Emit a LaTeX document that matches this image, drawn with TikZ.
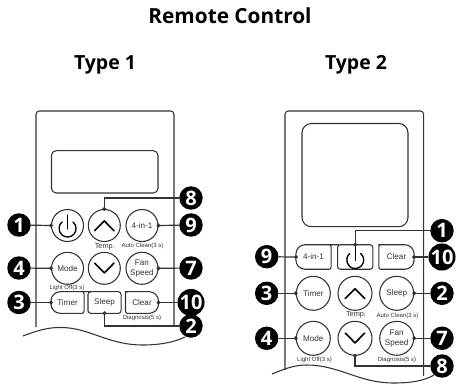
\documentclass[tikz,border=0pt]{standalone}
\usepackage{fontspec}
\setmainfont{Open Sans}
\newfontfamily\btnfont{Liberation Sans}
\usetikzlibrary{arrows.meta,calc}
\definecolor{ln}{HTML}{333333}
\tikzset{
  badge/.style={circle,fill=black,text=white,minimum size=17.6pt,inner sep=0pt,font=\fontsize{15}{15}\selectfont\bfseries},
  rbtn/.style={circle,draw=ln,line width=.8pt,fill=white,minimum size=24pt,inner sep=0pt,align=center,font=\btnfont\fontsize{6.1}{7.2}\selectfont,text=ln},
  sbtn/.style={rectangle,draw=none,minimum width=24.4pt,minimum height=15.8pt,inner sep=0pt,font=\btnfont\fontsize{6.1}{7.2}\selectfont,text=ln},
  wbtn/.style={sbtn,minimum width=26pt,minimum height=18pt},
  frame/.style={draw=ln,line width=.8pt},
  lead/.style={draw=ln,line width=.9pt,shorten >=-1.4pt,-{Circle[length=2.8pt]}},
  chev/.style={draw=black,line width=1pt,line cap=round,line join=round},
  small/.style={font=\btnfont\fontsize{4.5}{5}\selectfont,text=ln,inner sep=0pt},
  temp/.style={font=\btnfont\fontsize{5.5}{6}\selectfont,text=ln,inner sep=0pt},
  ttl/.style={font=\fontsize{15.6}{17}\selectfont\bfseries,inner sep=0pt,anchor=base},
  sub/.style={font=\fontsize{14.6}{17}\selectfont\bfseries,inner sep=0pt,anchor=base}
}
\newcommand{\lbtn}[1]{\draw[frame] ($(#1.north east)+(-1.5,0)$) [rounded corners=1.5] -- (#1.north east) -- (#1.south east) [rounded corners=7] -- (#1.south west) -- (#1.north west) -- cycle;}
\newcommand{\rrbtn}[1]{\draw[frame] ($(#1.north west)+(1.5,0)$) [rounded corners=7] -- (#1.north east) -- (#1.south east) [rounded corners=1.5] -- (#1.south west) -- (#1.north west) -- cycle;}
\newcommand{\qbtn}[1]{\draw[frame,rounded corners=2] (#1.north west) rectangle (#1.south east);}
\newcommand{\pwr}[1]{\draw[chev] ($(#1)+(0,-10.5)$) -- ($(#1)+(0,3.5)$);
  \draw[chev] ($(#1)+(5.5,-3.5)$) arc[start angle=-50,end angle=230,radius=8.5];}
\newcommand{\chup}[1]{\draw[chev,line width=1.2pt] ($(#1)+(-9.7,5.2)$) -- ($(#1)+(0,-4.6)$) -- ($(#1)+(9.7,5.2)$);}
\newcommand{\chdn}[1]{\draw[chev,line width=1.2pt] ($(#1)+(-9.7,-5.2)$) -- ($(#1)+(0,4.6)$) -- ($(#1)+(9.7,-5.2)$);}
\begin{document}
\begin{tikzpicture}[x=.75pt,y=-.75pt]
\useasboundingbox (0,0) rectangle (461,383);
\fill[white] (0,0) rectangle (461,383);
\node[ttl] (title) at (230,23) {Remote Control};
\node[sub] (t1) at (105,69) {Type 1};
\node[sub] (t2) at (356,69) {Type 2};
% ---- Type 1 body
\draw[frame,rounded corners=2.5] (36,327) -- (36,111) -- (174,111) -- (174,325);
\draw[frame,rounded corners=3.5] (51.5,150.7) rectangle (158,193);
\draw[frame] (23,336) .. controls (36,331) and (48,327) .. (62,327.5) .. controls (90,328) and (108,345) .. (143,345) .. controls (160,345) and (175,342) .. (185,337);
% buttons 1
\node[rbtn] (p1) at (67.5,225.5) {};
\node[rbtn] (up1) at (104.3,225.5) {};
\node[rbtn] (four1) at (142,225.5) {4-in-1};
\node[rbtn] (mode1) at (67.5,268.3) {Mode};
\node[rbtn] (dn1) at (104.3,268.3) {};
\node[rbtn] (fan1) at (142,268.3) {Fan\\Speed};
\node[sbtn] (timer1) at (67.5,302.5) {Timer};
\node[sbtn] (sleep1) at (104.5,302.5) {Sleep};
\node[sbtn] (clear1) at (142,302.5) {Clear};
\lbtn{timer1}\qbtn{sleep1}\rrbtn{clear1}
\pwr{p1}\chup{up1}\chdn{dn1}
\node[temp] (tt1) at (104.8,246.5) {Temp.};
\node[small] (ac1) at (142.5,246) {Auto Clean(3 s)};
\node[small] (lo1) at (67,287.5) {Light Off(3 s)};
\node[small] (dg1) at (142,317.5) {Diagnosis(5 s)};
% badges 1
\node[badge] (a1) at (19,225) {1};
\node[badge] (a4) at (19,268) {4};
\node[badge] (a3) at (19,302.5) {3};
\node[badge] (a8) at (191,198) {8};
\node[badge] (a9) at (191,225) {9};
\node[badge] (a7) at (191,268) {7};
\node[badge] (a10) at (191,302.5) {10};
\node[badge] (a2) at (191,326) {2};
\draw[lead] (a1) -- (p1.west);
\draw[lead] (a4) -- (mode1.west);
\draw[lead] (a3) -- (timer1.west);
\draw[lead] (a8) -| (up1.north);
\draw[lead] (a9) -- (four1.east);
\draw[lead] (a7) -- (fan1.east);
\draw[lead] (a10) -- (clear1.east);
\draw[lead] (a2) -| (sleep1.south);
% ---- Type 2 body
\draw[frame,rounded corners=2.5] (285,370) -- (285,111) -- (423.7,111) -- (423.7,376);
\draw[frame,rounded corners=7] (302,123.5) rectangle (408,226.7);
\draw[frame] (272,374) .. controls (282,370) and (293,365) .. (306,365) .. controls (340,365) and (358,383) .. (394,383) .. controls (410,383) and (424,381) .. (434,375);
% buttons 2
\node[wbtn] (four2) at (313.5,257) {4-in-1};
\node[wbtn] (p2) at (355.2,257) {};
\node[wbtn] (clear2) at (396.5,257) {Clear};
\lbtn{four2}\qbtn{p2}\rrbtn{clear2}
\pwr{p2}
\node[rbtn,minimum size=25.5pt] (timer2) at (313.3,293.3) {Timer};
\node[rbtn,minimum size=25.5pt] (up2) at (355,293.3) {};
\node[rbtn,minimum size=25.5pt] (sleep2) at (396.7,293.3) {Sleep};
\node[rbtn,minimum size=25.5pt] (mode2) at (313.3,338.3) {Mode};
\node[rbtn,minimum size=25.5pt] (dn2) at (355,338.3) {};
\node[rbtn,minimum size=25.5pt] (fan2) at (396.7,338.3) {Fan\\Speed};
\chup{up2}\chdn{dn2}
\node[temp] (tt2) at (356,315) {Temp.};
\node[small] (ac2) at (397.5,315.5) {Auto Clean(3 s)};
\node[small] (lo2) at (314.5,360) {Light Off(3 s)};
\node[small] (dg2) at (397,360) {Diagnosis(5 s)};
% badges 2
\node[badge] (c1) at (442,230.7) {1};
\node[badge] (c9) at (266.7,256.7) {9};
\node[badge] (c10) at (442,257) {10};
\node[badge] (c3) at (266.7,293.3) {3};
\node[badge] (c2) at (442,293.3) {2};
\node[badge] (c4) at (266.7,338.3) {4};
\node[badge] (c7) at (442,338.3) {7};
\node[badge] (c8) at (442,366) {8};
\draw[lead] (c1) -| (p2.north);
\draw[lead] (c9) -- (four2.west);
\draw[lead] (c10) -- (clear2.east);
\draw[lead] (c3) -- (timer2.west);
\draw[lead] (c2) -- (sleep2.east);
\draw[lead] (c4) -- (mode2.west);
\draw[lead] (c7) -- (fan2.east);
\draw[lead] (c8) -| (dn2.south);
\end{tikzpicture}
\end{document}
